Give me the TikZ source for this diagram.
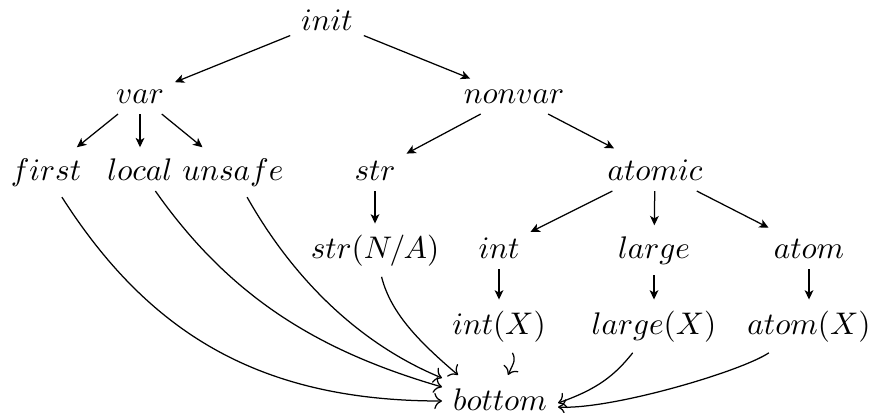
\documentclass[tikz,border=0pt]{standalone}
\usetikzlibrary{arrows.meta}
\begin{document}
\begin{tikzpicture}[x=0.32pt,y=-0.32pt,
  lbl/.style={anchor=base,inner sep=3.33pt},
  tree/.style={-{Stealth[length=3pt,width=2.8pt,inset=0.8pt]},line width=0.4pt},
  bot/.style={->,line width=0.4pt}]
\useasboundingbox (0,0) rectangle (874,412);
\node[lbl] (init) at (327,31) {$init$};
\node[lbl] (var) at (140,103) {$var$};
\node[lbl] (nonvar) at (514,103) {$nonvar$};
\node[lbl] (first) at (46,180) {$first$};
\node[lbl] (local) at (140,180) {$local$};
\node[lbl] (unsafe) at (233,180) {$unsafe$};
\node[lbl] (str) at (375,180) {$str$};
\node[lbl] (atomic) at (655,180) {$atomic$};
\node[lbl] (strNA) at (375,258) {$str(N/A)$};
\node[lbl] (int) at (499,258) {$int$};
\node[lbl] (large) at (654,258) {$large$};
\node[lbl] (atom) at (809,258) {$atom$};
\node[lbl] (intX) at (499,334) {$int(X)$};
\node[lbl] (largeX) at (654,334) {$large(X)$};
\node[lbl] (atomX) at (809,334) {$atom(X)$};
\node[lbl] (bottom) at (500,410) {$bottom$};

\draw[tree] (init) -- (var);
\draw[tree] (init) -- (nonvar);
\draw[tree] (var) -- (first);
\draw[tree] (var) -- (local);
\draw[tree] (var) -- (unsafe);
\draw[tree] (nonvar) -- (str);
\draw[tree] (nonvar) -- (atomic);
\draw[tree] (str) -- (strNA);
\draw[tree] (atomic) -- (int);
\draw[tree] (atomic) -- (large);
\draw[tree] (atomic) -- (atom);
\draw[tree] (int) -- (intX);
\draw[tree] (large) -- (largeX);
\draw[tree] (atom) -- (atomX);

\draw[bot] (first) .. controls (150,335) and (262,401) .. ([shift={(-58,-9)}]bottom.base);
\draw[bot] (local) .. controls (232,300) and (322,352) .. ([shift={(-58,-23)}]bottom.base);
\draw[bot] (unsafe) .. controls (295,282) and (362,345) .. ([shift={(-58,-32)}]bottom.base);
\draw[bot] (strNA) .. controls (391,315) and (423,345) .. ([shift={(-42,-35)}]bottom.base);
\draw[bot] (intX) .. controls (516,360) and (514,362) .. ([shift={(8,-35)}]bottom.base);
\draw[bot] (largeX) .. controls (615,375) and (598,389) .. ([shift={(58,-7)}]bottom.base);
\draw[bot] (atomX) .. controls (740,372) and (610,410) .. ([shift={(58,-3)}]bottom.base);
\end{tikzpicture}
\end{document}
